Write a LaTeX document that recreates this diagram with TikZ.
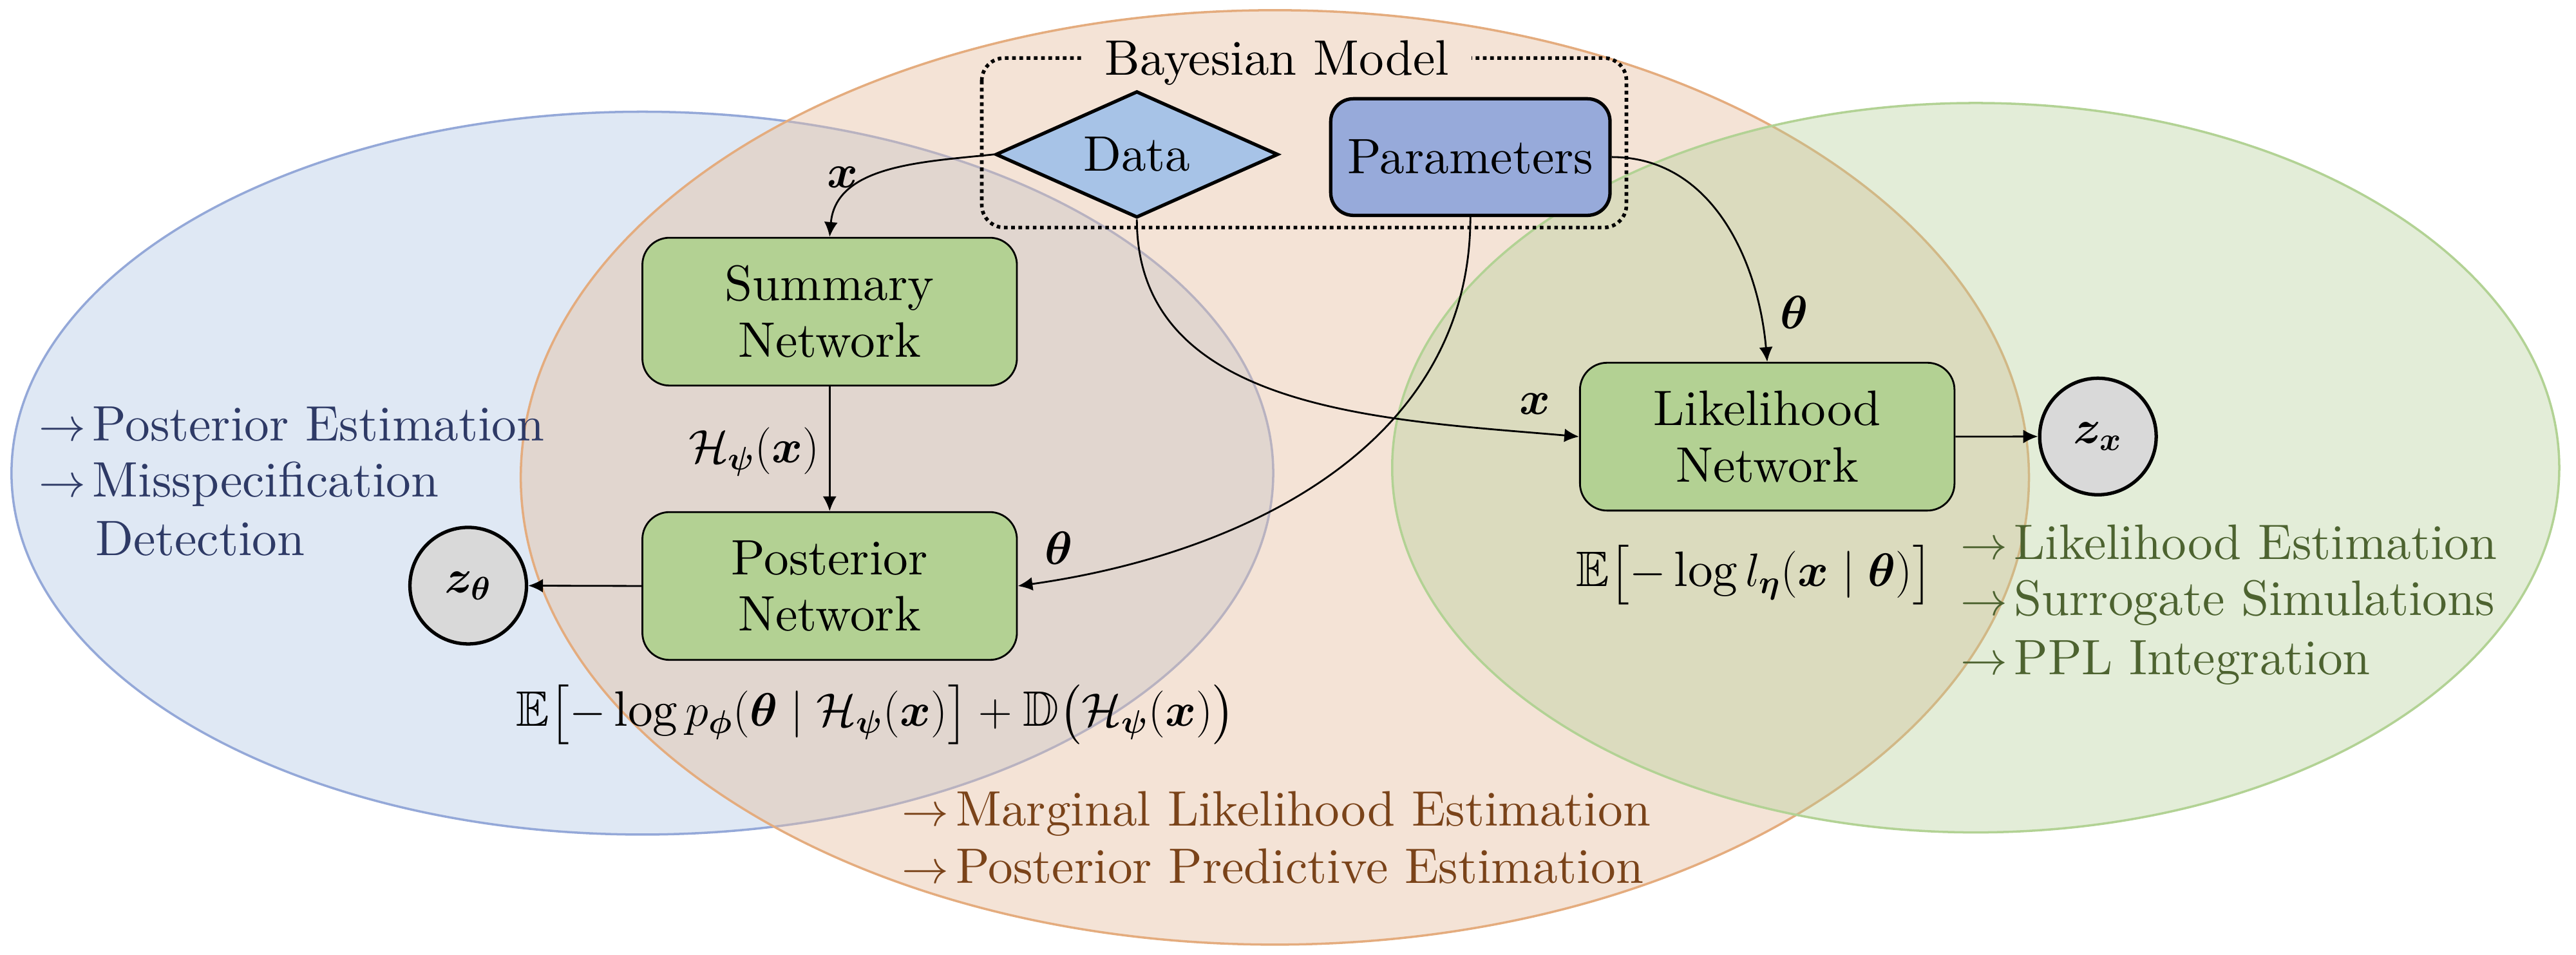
\documentclass[tikz,border=0pt]{standalone}
\usepackage{fontspec}
\setmainfont{lmroman10-regular.otf}[BoldFont=lmroman10-bold.otf, ItalicFont=lmroman10-italic.otf]
\usepackage{amsmath,amssymb,bm}
\usetikzlibrary{shapes.geometric,arrows.meta}
\definecolor{bluefill}{RGB}{191,209,233}
\definecolor{orangefill}{RGB}{230,191,162}
\definecolor{greenfill}{RGB}{179,206,150}
\definecolor{blueedge}{RGB}{148,168,216}
\definecolor{orangeedge}{RGB}{228,172,126}
\definecolor{greenedge}{RGB}{178,210,148}
\definecolor{orangebg}{RGB}{244,227,214}
\definecolor{netgreen}{RGB}{179,209,147}
\definecolor{parblue}{RGB}{151,170,218}
\definecolor{datablue}{RGB}{167,195,231}
\definecolor{latentgray}{RGB}{217,217,217}
\definecolor{blueT}{RGB}{46,58,102}
\definecolor{brownT}{RGB}{122,67,25}
\definecolor{greenT}{RGB}{77,99,48}
\begin{document}
\begin{tikzpicture}[x=0.02551cm,y=0.02551cm,
  font=\fontsize{22}{25}\selectfont,
  every node/.style={inner sep=0pt},
  region/.style={line width=1pt},
  netbox/.style={draw=black, line width=0.8pt, fill=netgreen, rounded corners=12pt,
    minimum width=5.816cm, minimum height=2.296cm, align=center},
  latent/.style={circle, draw=black, line width=1.5pt, fill=latentgray, minimum size=1.81cm},
  conn/.style={line width=0.8pt, -{Latex[length=6.5pt,width=6pt]}},
  lbl/.style={anchor=center},
  item/.style={anchor=base west}
]
\useasboundingbox (0,0) rectangle (1568,-581);
% regions
\path[region, fill=bluefill, fill opacity=0.5, draw=blueedge] (391,-288) ellipse [x radius=384, y radius=220];
\path[region, fill=orangefill, fill opacity=0.44, draw=orangeedge] (776,-290.6) ellipse [x radius=459, y radius=284.4];
\path[region, fill=greenfill, fill opacity=0.37, draw=greenedge] (1202.6,-284.7) ellipse [x radius=355.2, y radius=222];
% Bayesian model box
\draw[line width=1.6pt, dash pattern=on 1.6pt off 1.6pt, rounded corners=10pt] (597.6,-35.3) rectangle (990,-138.5);
\node[fill=orangebg, inner xsep=10pt, inner ysep=3pt, anchor=base] (title) at (777.3,-45.5) {Bayesian Model};
% nodes
\node[diamond, draw=black, line width=1.5pt, fill=datablue, minimum width=4.388cm, minimum height=1.964cm, aspect=2.2] (data) at (692,-94) {Data};
\node[draw=black, line width=1.5pt, fill=parblue, rounded corners=10pt, minimum width=4.337cm, minimum height=1.811cm] (par) at (895,-95.6) {Parameters};
\node[netbox] (summ) at (505,-189.7) {Summary\\Network};
\node[netbox] (post) at (505,-356.7) {Posterior\\Network};
\node[netbox] (lik) at (1075.7,-265.8) {Likelihood\\Network};
\node[latent] (zth) at (285,-356.5) {$\bm{z}_{\bm{\theta}}$};
\node[latent] (zx) at (1277,-265.7) {$\bm{z}_{\bm{x}}$};
% connectors
\draw[conn] (data.west) to[out=186,in=85] (summ.north);
\draw[conn] (data.south) to[out=-90,in=175] (lik.west);
\draw[conn] (par.south) to[out=-90,in=8] (post.east);
\draw[conn] (par.east) to[out=0,in=95] (lik.north);
\draw[conn] (summ.south) -- (post.north);
\draw[conn] (post.west) -- (zth.east);
\draw[conn] (lik.east) -- (zx.west);
% connector labels
\node[lbl] (lx1) at (513,-108) {$\bm{x}$};
\node[lbl] (lt1) at (644.5,-333.6) {$\bm{\theta}$};
\node[lbl] (lx2) at (934.5,-246) {$\bm{x}$};
\node[lbl] (lt2) at (1092,-190) {$\bm{\theta}$};
\node[anchor=base east] (lh) at (499,-281.5) {$\mathcal{H}_{\bm{\psi}}(\bm{x})$};
% losses
\node[anchor=base] (lossp) at (533,-442) {$\mathbb{E}\bigl[-\log p_{\bm{\phi}}(\bm{\theta}\mid\mathcal{H}_{\bm{\psi}}(\bm{x})\bigr]+\mathbb{D}\bigl(\mathcal{H}_{\bm{\psi}}(\bm{x})\bigr)$};
\node[anchor=base] (lossl) at (1068,-357) {$\mathbb{E}\bigl[-\log l_{\bm{\eta}}(\bm{x}\mid\bm{\theta})\bigr]$};
% lists
\node[item, text=blueT] (b1) at (23.4,-268.5) {$\rightarrow$\hspace{3pt}Posterior Estimation};
\node[item, text=blueT] (b2) at (23.4,-302.6) {$\rightarrow$\hspace{3pt}Misspecification};
\node[item, text=blueT] (b3) at (57.8,-338) {Detection};
\node[item, text=brownT] (o1) at (548.8,-502.9) {$\rightarrow$\hspace{3pt}Marginal Likelihood Estimation};
\node[item, text=brownT] (o2) at (548.8,-537.8) {$\rightarrow$\hspace{3pt}Posterior Predictive Estimation};
\node[item, text=greenT] (g1) at (1193,-340.6) {$\rightarrow$\hspace{3pt}Likelihood Estimation};
\node[item, text=greenT] (g2) at (1193,-374.7) {$\rightarrow$\hspace{3pt}Surrogate Simulations};
\node[item, text=greenT] (g3) at (1193,-410.5) {$\rightarrow$\hspace{3pt}PPL Integration};
\end{tikzpicture}
\end{document}
